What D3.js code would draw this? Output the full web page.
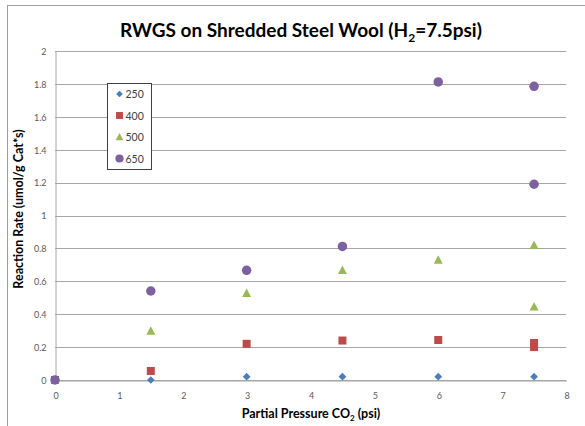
<!DOCTYPE html>
<html>
<head>
<meta charset="utf-8">
<script src="https://cdn.jsdelivr.net/npm/d3@7"></script>
<style>
  body { margin: 0; background: #fff; }
  svg text { font-family: Lato, "Open Sans", sans-serif; }
</style>
</head>
<body>
<script>
// chart size
const width = 585;
const height = 426;

// data
const pressures = [0, 1.5, 3, 4.5, 6, 7.5, 7.5];
const seriesNames = ['250', '400', '500', '650'];
const rate250 = [0, 0, 0.02, 0.02, 0.02, 0.02];
const rate400 = [0, 0.055, 0.22, 0.24, 0.243, 0.225, 0.2];
const rate500 = [0, 0.298, 0.527, 0.667, 0.73, 0.82, 0.445];
const rate650 = [0, 0.541, 0.667, 0.812, 1.812, 1.785, 1.19];
const xTicks = [0, 1, 2, 3, 4, 5, 6, 7, 8];
const yTicks = [0, 0.2, 0.4, 0.6, 0.8, 1, 1.2, 1.4, 1.6, 1.8, 2];

const colors = ['#4a7ebb', '#be4b48', '#98b954', '#7d60a0'];

// custom marker shapes
const diamond = { draw(ctx, s) { const r = Math.sqrt(s) / 2; ctx.moveTo(0, -r); ctx.lineTo(r, 0); ctx.lineTo(0, r); ctx.lineTo(-r, 0); ctx.closePath(); } };
const square = { draw(ctx, s) { const r = Math.sqrt(s) / 2; ctx.rect(-r, -r, 2 * r, 2 * r); } };
const triangle = { draw(ctx, s) { const r = Math.sqrt(s) / 2; ctx.moveTo(0, -r * 1.05); ctx.lineTo(r, r * 0.85); ctx.lineTo(-r, r * 0.85); ctx.closePath(); } };
const circle = { draw(ctx, s) { const r = Math.sqrt(s) / 2; ctx.moveTo(r, 0); ctx.arc(0, 0, r, 0, 2 * Math.PI); } };
const shapes = [diamond, square, triangle, circle];
const sizes = [60, 64, 80, 90];

const series = [rate250, rate400, rate500, rate650].map((vals, i) => ({
  name: seriesNames[i],
  color: colors[i],
  shape: shapes[i],
  size: sizes[i],
  points: vals.map((v, j) => ({ x: pressures[j], y: v }))
}));

const svg = d3.select('body')
  .append('svg')
  .attr('width', width)
  .attr('height', height);

// outer chart border (only top and left show in the frame)
svg.append('rect')
  .attr('x', 7.5)
  .attr('y', 5.5)
  .attr('width', 620)
  .attr('height', 460)
  .attr('fill', 'none')
  .attr('stroke', '#a0a0a0');

// scales
const xScale = d3.scaleLinear().domain([0, 8]).range([55, 566]);
const yScale = d3.scaleLinear().domain([0, 2]).range([380, 51]);

// gridlines
svg.append('g')
  .selectAll('line')
  .data(yTicks)
  .enter()
  .append('line')
  .attr('x1', xScale(0))
  .attr('x2', xScale(8))
  .attr('y1', d => Math.round(yScale(d)) + 0.5)
  .attr('y2', d => Math.round(yScale(d)) + 0.5)
  .attr('stroke', '#a6a6a6');

// y axis
const yAxis = svg.append('g')
  .attr('transform', `translate(${xScale(0) + 0.5}, 0.5)`)
  .call(d3.axisLeft(yScale).tickValues(yTicks).tickSize(0).tickPadding(9).tickFormat(d3.format('')));

// x axis
const xAxis = svg.append('g')
  .attr('transform', `translate(0.5, ${yScale(0) + 0.5})`)
  .call(d3.axisBottom(xScale).tickValues(xTicks).tickSize(0).tickPadding(12));

[yAxis, xAxis].forEach(ax => {
  ax.select('.domain').attr('stroke', '#a6a6a6');
  ax.selectAll('text')
    .attr('font-size', '9px')
    .attr('fill', '#595959');
});

// markers
series.forEach(s => {
  svg.append('g')
    .selectAll('path')
    .data(s.points)
    .enter()
    .append('path')
    .attr('transform', d => `translate(${xScale(d.x)}, ${yScale(d.y)})`)
    .attr('d', d3.symbol().type(s.shape).size(s.size))
    .attr('fill', s.color);
});

// title
const title = svg.append('text')
  .attr('x', 301)
  .attr('y', 37)
  .attr('text-anchor', 'middle')
  .attr('font-size', '19px')
  .attr('font-weight', 'bold')
  .attr('fill', '#000');
title.append('tspan').text('RWGS on Shredded Steel Wool (H');
title.append('tspan').text('2').attr('font-size', '12px').attr('dy', 5);
title.append('tspan').text('=7.5psi)').attr('dy', -5);

// axis titles
const xTitle = svg.append('text')
  .attr('x', 311)
  .attr('y', 418)
  .attr('text-anchor', 'middle')
  .attr('font-size', '12.5px')
  .attr('font-weight', 'bold')
  .attr('fill', '#000');
xTitle.append('tspan').text('Partial Pressure CO');
xTitle.append('tspan').text('2').attr('font-size', '8px').attr('dy', 3);
xTitle.append('tspan').text(' (psi)').attr('dy', -3);

svg.append('text')
  .attr('transform', 'translate(23, 209) rotate(-90)')
  .attr('text-anchor', 'middle')
  .attr('font-size', '12.5px')
  .attr('font-weight', 'bold')
  .attr('fill', '#000')
  .text('Reaction Rate (umol/g Cat*s)');

// legend
const legend = svg.append('g')
  .attr('transform', 'translate(107.5, 83.5)');

legend.append('rect')
  .attr('width', 44)
  .attr('height', 86)
  .attr('fill', '#fff')
  .attr('stroke', '#404040');

const items = legend.selectAll('g')
  .data(series)
  .enter()
  .append('g')
  .attr('transform', (d, i) => `translate(12, ${10.5 + i * 21.5})`);

items.append('path')
  .attr('d', d => d3.symbol().type(d.shape).size(d.size * 0.75)())
  .attr('fill', d => d.color);

items.append('text')
  .text(d => d.name)
  .attr('x', 6)
  .attr('y', 4)
  .attr('font-size', '10.5px')
  .attr('fill', '#404040');
</script>
</body>
</html>
